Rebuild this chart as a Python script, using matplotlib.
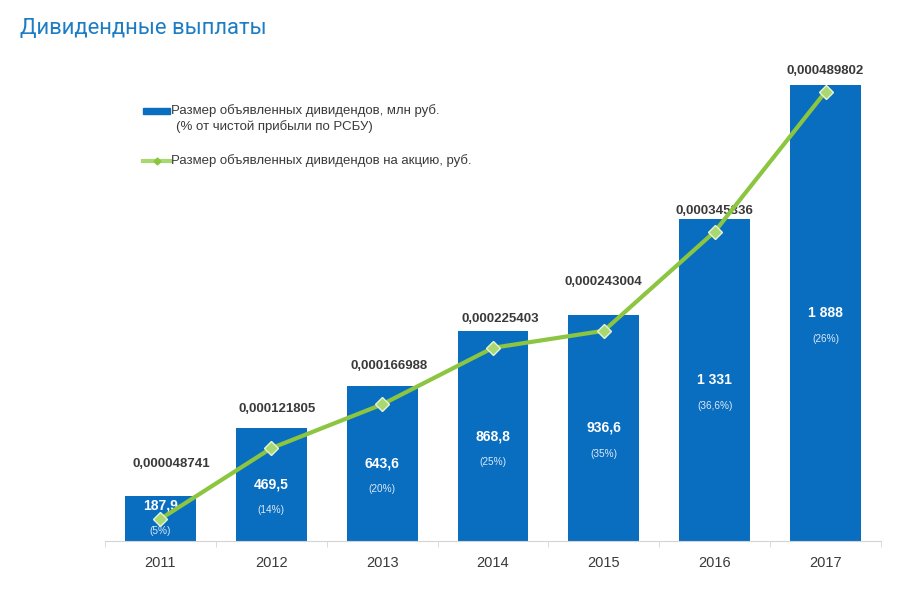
import matplotlib
matplotlib.use("Agg")
import matplotlib.pyplot as plt
from matplotlib.lines import Line2D
from matplotlib.patches import Rectangle

# data
years = ["2011", "2012", "2013", "2014", "2015", "2016", "2017"]
dividends_mln = [187.9, 469.5, 643.6, 868.8, 936.6, 1331, 1888]
dividend_labels = ["187,9", "469,5", "643,6", "868,8", "936,6", "1 331", "1 888"]
payout_labels = ["(5%)", "(14%)", "(20%)", "(25%)", "(35%)", "(36,6%)", "(26%)"]
per_share = [0.000048741, 0.000121805, 0.000166988, 0.000225403,
             0.000243004, 0.000345336, 0.000489802]
per_share_labels = ["0,000048741", "0,000121805", "0,000166988", "0,000225403",
                    "0,000243004", "0,000345336", "0,000489802"]

# label placement tweaks (pixels)
top_dx = [11, 6, 7, 7, 0, 0, 0]
top_dy = [32, 18.5, 20, 12, 32.5, 8.5, 14.3]
inner_frac = [0.79, 0.5, 0.5, 0.5, 0.5, 0.5, 0.5]

W, H = 902, 591
BLUE = "#0a6ec0"
GREEN = "#8cc540"
MARKER = "#a9d870"
DARK = "#3a3a3a"
AXIS = "#d4d4d4"

plt.rcParams["font.family"] = ["Liberation Sans", "DejaVu Sans"]

fig = plt.figure(figsize=(W / 100, H / 100), dpi=100)
ax = fig.add_axes([105 / W, 50 / H, 776 / W, 481 / H])
x = list(range(len(years)))

ax.bar(x, dividends_mln, width=0.64, color=BLUE, zorder=2)
ax.set_xlim(-0.5, len(years) - 0.5)
ax.set_ylim(0, 1991)

for s in ["top", "left", "right"]:
    ax.spines[s].set_visible(False)
ax.spines["bottom"].set_color(AXIS)
ax.set_yticks([])
ax.set_xticks(x)
ax.set_xticklabels(years, fontsize=10.5, color=DARK)
ax.set_xticks([i - 0.5 for i in range(len(years) + 1)], minor=True)
ax.tick_params(axis="x", which="major", length=0, pad=11)
ax.tick_params(axis="x", which="minor", length=4.3, color=AXIS, direction="out")

px = 0.72  # points per pixel at 100 dpi
for i in x:
    v = dividends_mln[i]
    ax.annotate(dividend_labels[i], (i, v * inner_frac[i]), ha="center", va="center",
                color="white", fontsize=10, fontweight="bold", zorder=3)
    ax.annotate(payout_labels[i], (i, v * inner_frac[i]), xytext=(0, -26 * px),
                textcoords="offset points", ha="center", va="center",
                color="#dce9f7", fontsize=7.2, zorder=3)
    ax.annotate(per_share_labels[i], (i, v), xytext=(top_dx[i] * px, top_dy[i] * px),
                textcoords="offset points", ha="center", va="center",
                color=DARK, fontsize=9.5, fontweight="bold", zorder=3)

ax2 = ax.twinx()
ax2.set_ylim(26.0e-6, 522.5e-6)
ax2.set_yticks([])
for s in ax2.spines.values():
    s.set_visible(False)
ax2.plot(x, per_share, color=GREEN, linewidth=3, marker="D", markersize=7,
         markerfacecolor=MARKER, markeredgecolor="#e6f3d6", markeredgewidth=1,
         zorder=4)

fig.text(20 / W, 1 - 28.5 / H, "Дивидендные выплаты", fontsize=15.8,
         color="#1c7cc4", va="center", ha="left", family=["Roboto", "DejaVu Sans"])

# legend
fig.add_artist(Rectangle((143 / W, 1 - 114 / H), 27 / W, 6 / H,
                         transform=fig.transFigure, color=BLUE))
fig.text(171 / W, 1 - 111 / H, "Размер объявленных дивидендов, млн руб.",
         fontsize=9.5, color=DARK, va="center")
fig.text(176 / W, 1 - 127 / H, "(% от чистой прибыли по РСБУ)",
         fontsize=9.5, color=DARK, va="center")
fig.add_artist(Line2D([143 / W, 170 / W], [1 - 161 / H, 1 - 161 / H],
                      transform=fig.transFigure, color=MARKER, linewidth=3))
fig.add_artist(Line2D([156.5 / W], [1 - 161 / H], transform=fig.transFigure,
                      marker="D", markersize=3.5, color=GREEN, linestyle="none"))
fig.text(171 / W, 1 - 161 / H, "Размер объявленных дивидендов на акцию, руб.",
         fontsize=9.5, color=DARK, va="center")

fig.savefig("out.png", dpi=100)
